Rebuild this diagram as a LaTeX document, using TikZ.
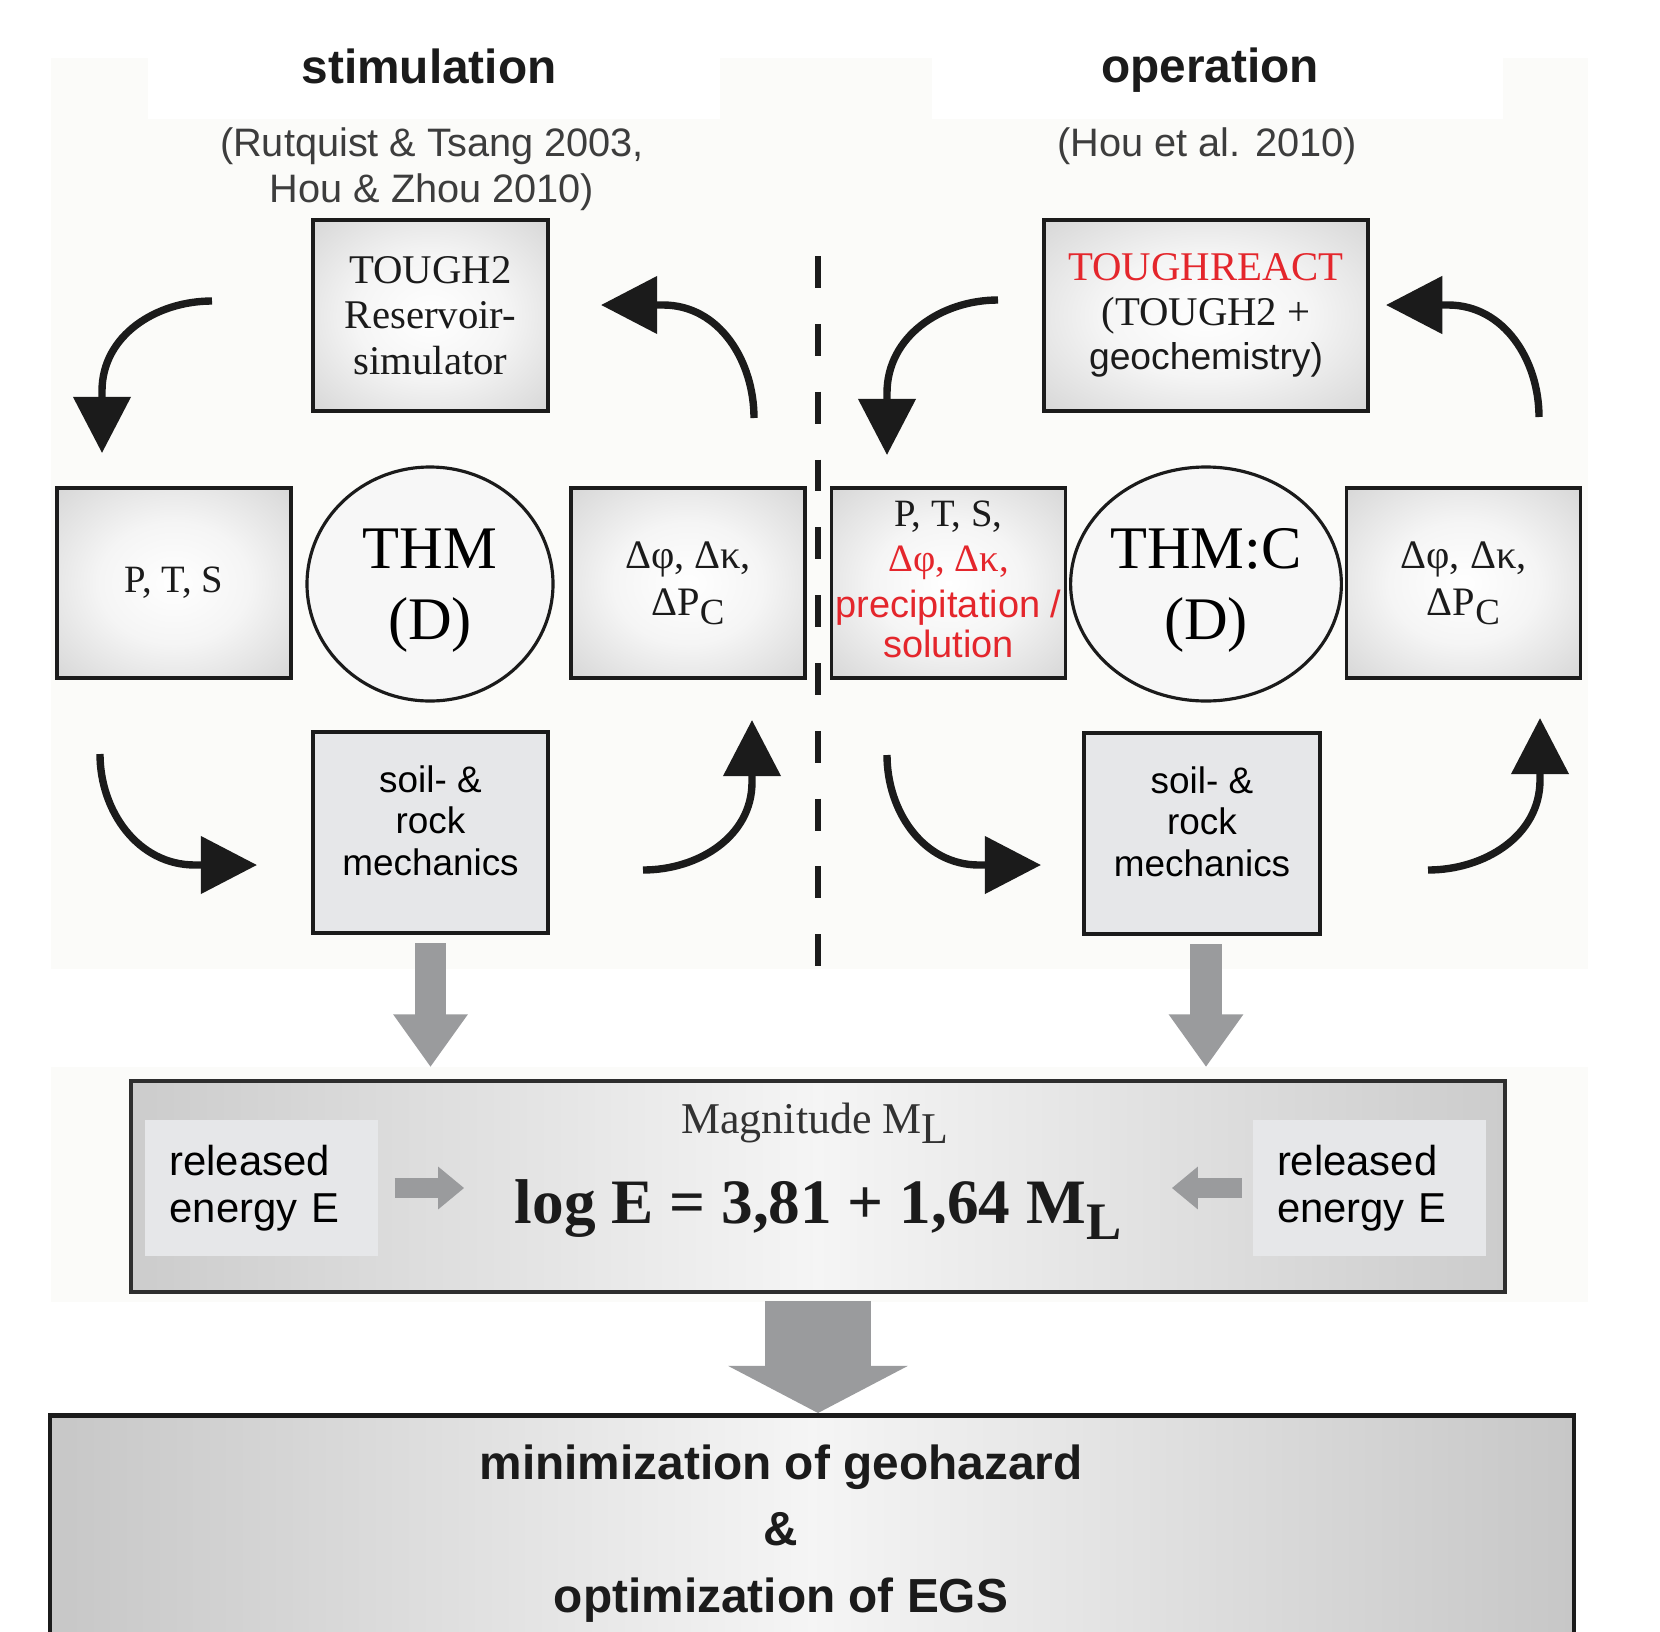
\documentclass[tikz,border=0pt]{standalone}
\usepackage{fontspec}
\setmainfont{Liberation Serif}
\setsansfont{Liberation Sans}
\usetikzlibrary{arrows.meta,positioning,shapes.geometric,calc}
\definecolor{ink}{HTML}{1B1B1B}
\definecolor{frame}{HTML}{2E2E2E}
\definecolor{flat}{HTML}{E6E7E9}
\definecolor{haze}{HTML}{FBFBF9}
\definecolor{fat}{HTML}{9A9B9D}
\definecolor{chem}{HTML}{E4262C}
\pgfdeclareradialshading{glow}{\pgfpoint{0bp}{0bp}}{color(0bp)=(white); color(16bp)=(white!96!black); color(36bp)=(white!84!black); color(50bp)=(white!74!black)}
\newcommand{\fsz}[2]{\fontsize{#1}{#2}\selectfont}
\tikzset{
  panel/.style={draw=frame, line width=1.1pt, shading=glow, align=center,
                minimum width=2.34cm, minimum height=1.90cm, inner sep=0pt, color=ink},
  soilbox/.style={draw=ink, line width=1.4pt, fill=flat, align=center,
                  minimum width=2.35cm, minimum height=2.01cm, inner sep=0pt,
                  text depth=0.24cm, font=\sffamily\fsz{10.5}{11.8}},
  ring/.style={ellipse, draw=ink, line width=0.9pt, fill=white!97!black, align=center,
               minimum width=2.46cm, minimum height=2.34cm, inner sep=0pt,
               text depth=0pt, font=\fsz{17.2}{20.3}},
  turnarr/.style={-{Triangle[length=16pt,width=16pt]}, line width=2.1pt, color=ink},
  fatarr/.style={-{Triangle[length=15pt,width=20.2pt]}, line width=9.1pt, color=fat},
}
\begin{document}
\begin{tikzpicture}[
    head/.style={font=\sffamily\bfseries\fsz{13.6}{16}, color=ink},
    cite/.style={font=\sffamily\fsz{11.3}{13.1}, color=ink!85, align=center},
    energy/.style={fill=flat, align=left, text width=1.84cm, font=\sffamily\fsz{11.9}{13.5},
                   minimum width=2.33cm, minimum height=1.36cm, inner sep=0pt}]
  \useasboundingbox (0,0) rectangle (16.60,-16.31);
  % faint page background
  \fill[haze] (0.51,-0.58) rectangle (15.88,-9.69);
  \fill[haze] (0.51,-10.67) rectangle (15.88,-13.02);
  \fill[white] (1.48,-0.58) rectangle (7.20,-1.19);
  \fill[white] (9.32,-0.58) rectangle (15.03,-1.19);

  \node[head] (stim) at (4.29,-0.66) {stimulation};
  \node[head] (oper) at (12.10,-0.70) {operation};
  \node[cite] (cstim) at (4.32,-1.69) {(Rutquist \& Tsang 2003,\\Hou \& Zhou 2010)};
  \node[cite] (coper) at (12.07,-1.46) {(Hou et al. 2010)};

  % simulators
  \node[panel, minimum width=2.35cm, minimum height=1.91cm, font=\fsz{11.6}{13}] (tough) at (4.305,-3.155)
    {TOUGH2\\Reservoir-\\simulator};
  \node[panel, minimum width=3.24cm, minimum height=1.91cm, font=\fsz{11.6}{12.7}] (react) at (12.06,-3.155)
    {\textcolor{chem}{TOUGHREACT}\\(TOUGH2 +\\\textsf{\fsz{10.6}{12.7}geochemistry)}};

  % coupled processes
  \node[panel, font=\fsz{11}{13}] (pts1) at (1.74,-5.83) {P, T, S};
  \node[ring] (thm1) at (4.30,-5.84) {THM\\(D)};
  \node[panel, font=\fsz{11.5}{13.5}] (dphi1) at (6.88,-5.83)
    {Δφ, Δκ,\\ΔP\raisebox{-0.45ex}{\fsz{10.5}{10.5}C}};
  \node[panel, font=\fsz{11}{13}, text depth=0.08cm] (pts2) at (9.485,-5.83)
    {P, T, S,\\\textcolor{chem}{Δφ, Δκ,}\\\textcolor{chem}{\sffamily\fsz{10.8}{11.5}precipitation /}\\[-1.6pt]\textcolor{chem}{\sffamily\fsz{10.8}{11.5}solution}};
  \node[ring] (thm2) at (12.06,-5.84) {THM:C\\(D)};
  \node[panel, font=\fsz{11.5}{13.5}] (dphi2) at (14.635,-5.83)
    {Δφ, Δκ,\\ΔP\raisebox{-0.45ex}{\fsz{10.5}{10.5}C}};

  \node[soilbox] (soil1) at (4.305,-8.325) {soil- \&\\rock\\mechanics};
  \node[soilbox, minimum width=2.36cm] (soil2) at (12.02,-8.335) {soil- \&\\rock\\mechanics};

  % stimulation | operation
  \draw[ink, line width=1.7pt, dash pattern=on 9.1pt off 10.2pt] (8.18,-2.56) -- (8.18,-9.69);

  % loop arrows: start, end of bend, tip
  \coordinate (a1s) at (2.12,-3.01);  \coordinate (a1b) at (1.02,-3.91);  \coordinate (a1e) at (1.02,-4.53);
  \coordinate (a2s) at (7.54,-4.18);  \coordinate (a2b) at (6.63,-3.05);  \coordinate (a2e) at (6.01,-3.05);
  \coordinate (a3s) at (1.00,-7.54);  \coordinate (a3b) at (1.95,-8.65);  \coordinate (a3e) at (2.57,-8.65);
  \coordinate (a4s) at (6.43,-8.70);  \coordinate (a4b) at (7.52,-7.82);  \coordinate (a4e) at (7.52,-7.20);
  \coordinate (a5s) at (9.98,-3.00);  \coordinate (a5b) at (8.87,-3.93);  \coordinate (a5e) at (8.87,-4.55);
  \coordinate (a6s) at (15.39,-4.17); \coordinate (a6b) at (14.48,-3.05); \coordinate (a6e) at (13.86,-3.05);
  \coordinate (a7s) at (8.87,-7.55);  \coordinate (a7b) at (9.79,-8.65);  \coordinate (a7e) at (10.41,-8.65);
  \coordinate (a8s) at (14.28,-8.70); \coordinate (a8b) at (15.40,-7.80); \coordinate (a8e) at (15.40,-7.18);
  \foreach \a/\o/\i in {a1/180/90, a2/90/0, a3/-90/180, a4/0/-90,
                        a5/180/90, a6/90/0, a7/-90/180, a8/0/-90}
    \draw[turnarr] (\a s) to[out=\o, in=\i] (\a b) -- (\a e);

  % magnitude
  \node[draw=frame, line width=1.1pt, left color=black!20, right color=black!20,
        middle color=white!96!black, minimum width=13.74cm, minimum height=2.11cm] (mag) at (8.18,-11.865) {};
  \node[energy] (rel1) at (2.615,-11.88) {released\\energy E};
  \node[energy] (rel2) at (13.69,-11.88) {released\\energy E};
  \node[font=\fsz{12.5}{14}, color=ink!90] (magn) at (8.15,-11.235) {Magnitude M\raisebox{-0.5ex}{L}};
  \node[font=\bfseries\fsz{18}{20}, color=ink, inner sep=0pt] (logE) at (8.18,-12.10)
    {log E = 3,81 + 1,64 M\raisebox{-0.55ex}{\fsz{15}{15}L}};

  \draw[fatarr, shorten <=0.08cm, shorten >=0.12cm] (soil1) -- (soil1 |- mag.north);
  \draw[fatarr, shorten <=0.08cm, shorten >=0.12cm]
    ([xshift=0.04cm]soil2.south) -- ([xshift=0.04cm]soil2.south |- mag.north);
  \draw[fatarr, line width=5.7pt, -{Triangle[length=7.4pt,width=11.7pt]},
        shorten <=0.16cm, shorten >=0.50cm] (rel1.east) -- (rel1.east -| logE.west);
  \draw[fatarr, line width=5.7pt, -{Triangle[length=7.4pt,width=11.7pt]},
        shorten <=0.10cm, shorten >=0.50cm] (rel2.west) -- (rel2.west -| logE.east);

  % outcome
  \node[draw=ink, line width=1.4pt, left color=black!22, right color=black!22,
        middle color=white!96!black, minimum width=15.24cm, minimum height=2.40cm,
        anchor=north] (goalbox) at (8.12,-14.13) {};
  \node[font=\sffamily\bfseries\fsz{13.6}{18.9}, color=ink, align=center] (goal) at (7.81,-15.335)
    {minimization of geohazard\\\&\\optimization of EGS};
  \draw[fatarr, line width=29.9pt, -{Triangle[length=13.4pt,width=50.6pt]},
        shorten <=0.07cm] (mag) -- (mag |- goalbox.north);
\end{tikzpicture}
\end{document}
